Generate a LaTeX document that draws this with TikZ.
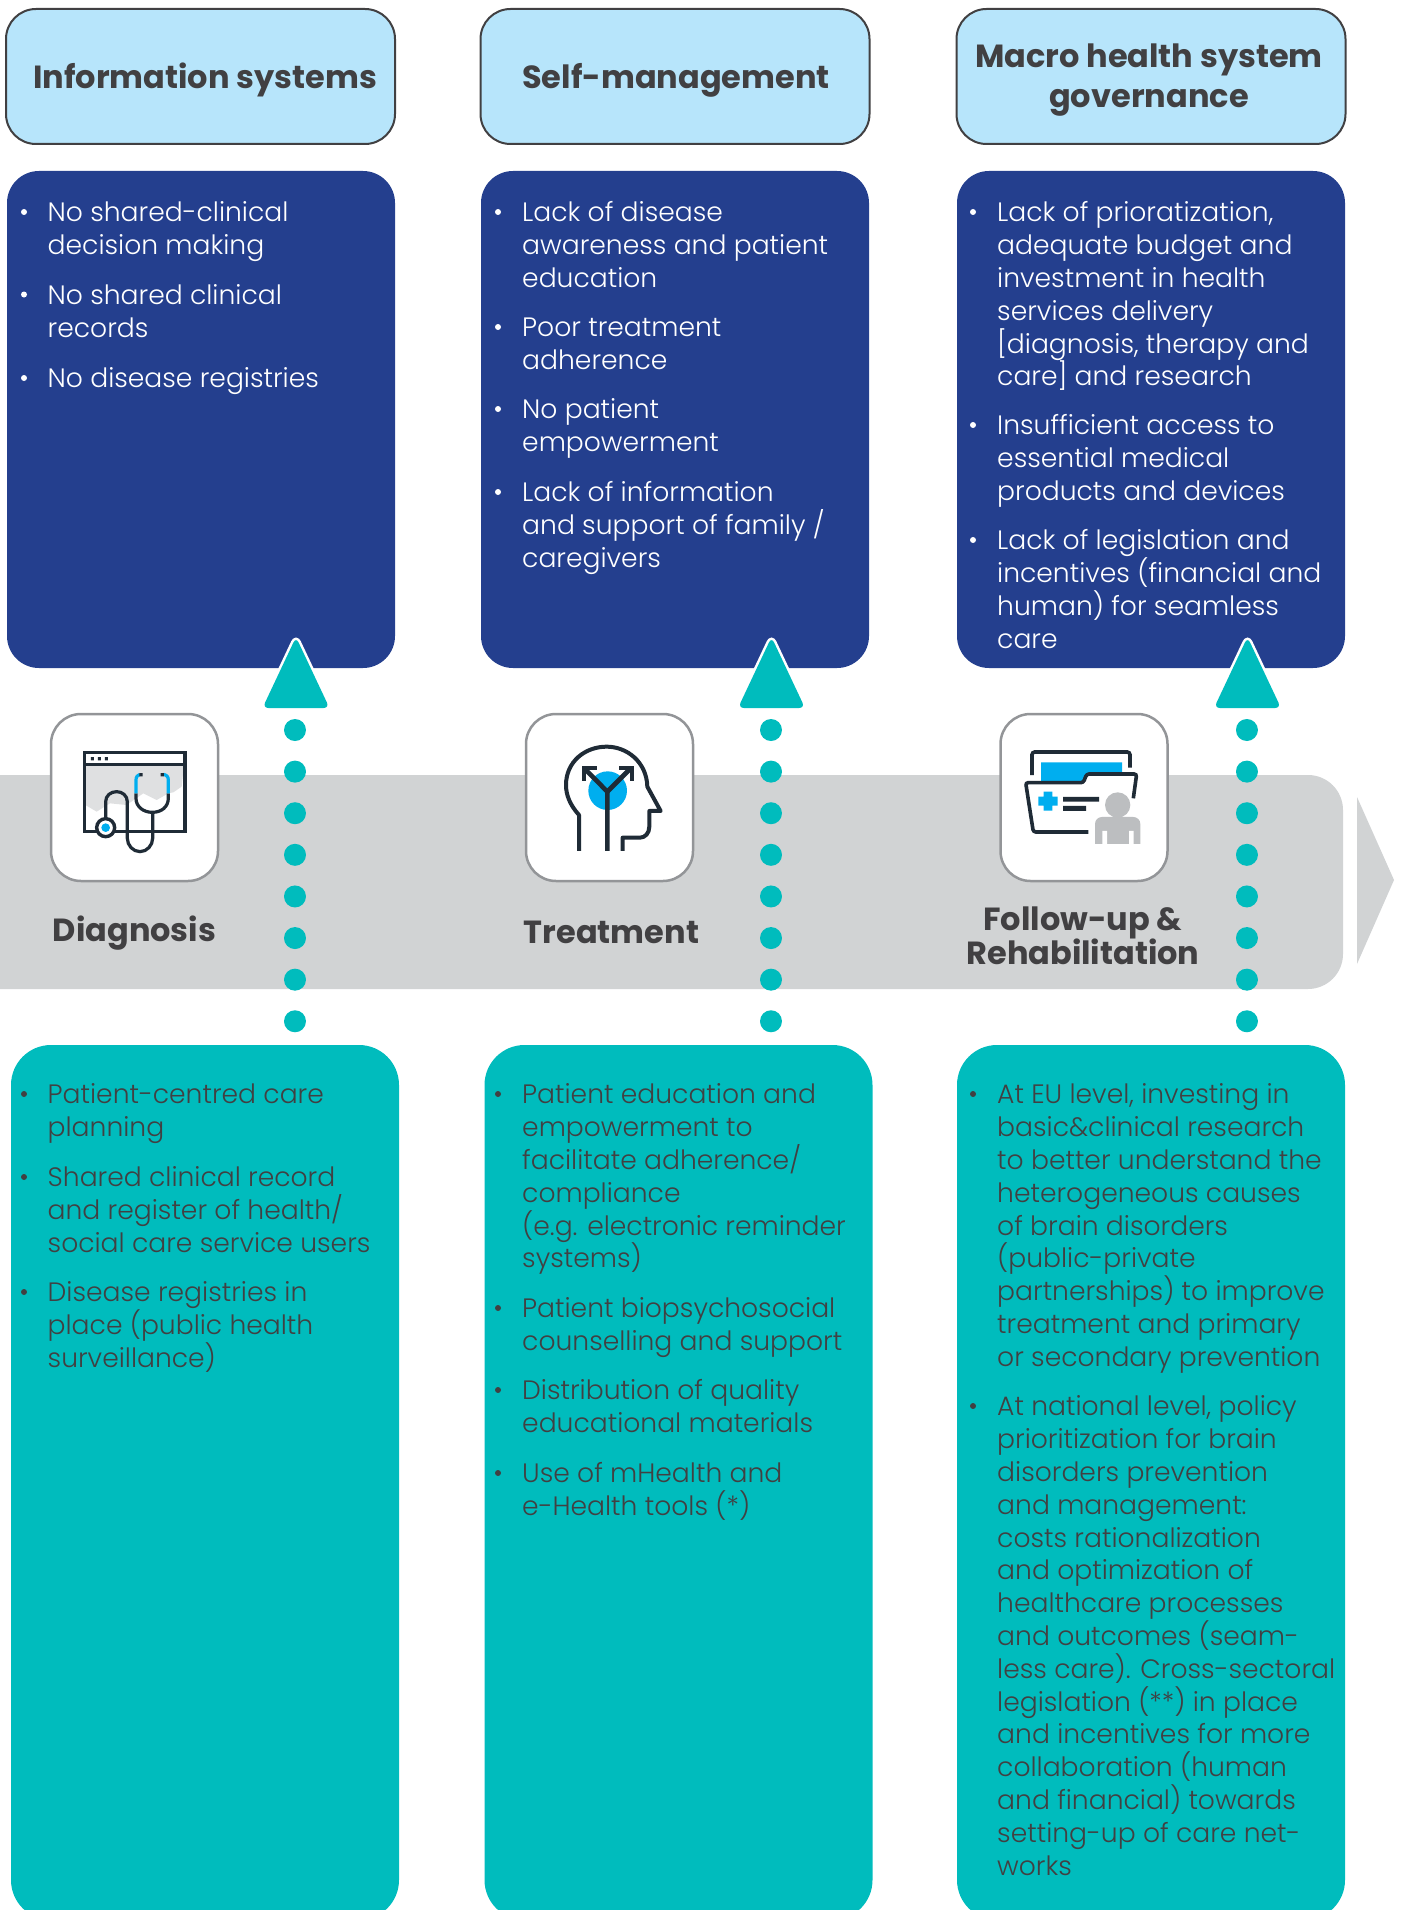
\documentclass[tikz,border=0pt]{standalone}
\usepackage{fontspec}
\setmainfont{Poppins Light}
\newfontfamily\headfont{Poppins}[UprightFont=* Bold]
\usetikzlibrary{calc}
\newcommand\tightlines{\setlength{\lineskiplimit}{-100pt}}
\newcommand\hdrfont{\headfont\fontsize{32}{40}\selectfont\tightlines}
\newcommand\stagefont{\headfont\fontsize{32}{34}\selectfont\tightlines}
\newcommand\bodyfont{\fontsize{26.6}{32.8}\selectfont\tightlines}
\definecolor{navy}{HTML}{243F8E}
\definecolor{teal}{HTML}{00BCBD}
\definecolor{sky}{HTML}{B7E5FB}
\definecolor{band}{HTML}{D1D3D4}
\definecolor{ink}{HTML}{414042}
\definecolor{edge}{HTML}{939598}
\definecolor{iconink}{HTML}{1F2B36}
\definecolor{iconblue}{HTML}{00AEEF}
\definecolor{person}{HTML}{BCBEC0}
\tikzset{
  x=1pt,y=-1pt,
  hdr/.style={draw=ink,line width=2pt,fill=sky,rounded corners=30pt,minimum width=389pt,minimum height=135pt,inner sep=0},
  hdrtext/.style={inner sep=0,align=center,text=ink,font=\hdrfont},
  stagetext/.style={inner sep=0,align=center,text=ink,font=\stagefont},
  darkbox/.style={fill=navy,rounded corners=32pt,minimum width=388pt,minimum height=497pt,inner sep=0},
  tealbox/.style={fill=teal,rounded corners=40pt,minimum width=388pt,minimum height=875pt,inner sep=0},
  iconbox/.style={draw=edge,line width=2.5pt,fill=white,rounded corners=30pt,minimum width=167pt,minimum height=167pt,inner sep=0},
  itemtext/.style={anchor=north west,inner sep=0,align=left,font=\bodyfont},
  bul/.style={circle,fill,minimum size=6pt,inner sep=0},
  dotline/.style={draw=teal,line width=22pt,line cap=round,dash pattern=on 0.01pt off 41.6pt},
  headhalo/.style={draw=white,line width=5pt,rounded corners=6pt},
  ic/.style={draw=iconink,line width=3.2pt},
}
\newcommand\bitem[5]{% name, bullet x, text x, centre y, text
  \node[bul] (#1b) at (#2,#4) {};
  \node[itemtext] (#1) at (#3,#4-13.3) {\strut #5};
}
\begin{document}
\begin{tikzpicture}
\useasboundingbox (0,0) rectangle (1402,1910);
\clip (0,0) rectangle (1402,1910);
% band
\fill[band,rounded corners=35pt] (-60,775) -- (1343,775) -- (1343,989) -- (-60,989) -- cycle;
\fill[band] (1357,797) -- (1394,880) -- (1357,964) -- cycle;
% dots
\foreach \n/\x in {1/295,2/771,3/1246.5}{
  \coordinate (ds\n) at (\x,730);
  \coordinate (de\n) at (\x,1024);
  \draw[dotline] (ds\n) -- (de\n);
}
% headers
\node[hdr] (h1) at (200.5,76.5) {};
\node[hdr] (h2) at (675,76.5) {};
\node[hdr] (h3) at (1151,76.5) {};
\node[hdrtext] (h1t) at (205,80) {Information systems};
\node[hdrtext] (h2t) at (676,80) {Self-management};
\node[hdrtext] (h3t) at (1149,80) {Macro health system\\governance};
% dark boxes
\node[darkbox] (p1) at (201,419.5) {};
\node[darkbox] (p2) at (675,419.5) {};
\node[darkbox] (p3) at (1151,419.5) {};
% teal boxes
\node[tealbox] (s1) at (205,1482.5) {};
\node[tealbox] (s2) at (678.5,1482.5) {};
\node[tealbox] (s3) at (1151,1482.5) {};
% arrow heads
\foreach \n/\x in {1/296,2/771.5,3/1247.5}{
  \draw[headhalo] (\x,637) -- (\x+33.5,708) -- (\x-33.5,708) -- cycle;
  \fill[teal,rounded corners=6pt] (\x,637) -- (\x+33.5,708) -- (\x-33.5,708) -- cycle;
}
% icon boxes
\node[iconbox] (i1) at (134.5,797.5) {};
\node[iconbox] (i2) at (609.5,797.5) {};
\node[iconbox] (i3) at (1084,797.5) {};
% icon 1
\begin{scope}[shift={(40,705)},x=0.3333pt,y=-0.3333pt]
  \fill[band!70!white] (136,180) -- (432,180) -- (425,245) -- (400,262) -- (385,265) -- (350,285) -- (310,265) -- (260,300) -- (210,295) -- (170,320) -- (136,300) -- cycle;
  \draw[ic] (133,142) rectangle (435,380);
  \draw[ic] (133,178) -- (435,178);
  \fill[iconink] (153,156) rectangle (162,166) (174,156) rectangle (183,166) (195,156) rectangle (204,166);
  \draw[ic] (338,322) -- (338,400) .. controls (338,421) and (321,440) .. (300,440) .. controls (279,440) and (262,421) .. (262,400) -- (262,290) .. controls (262,272) and (247,260) .. (230,260) .. controls (212,260) and (197,272) .. (197,290) -- (197,345);
  \draw[ic] (288,265) -- (288,280) .. controls (288,305) and (310,322) .. (337,322) .. controls (365,322) and (385,305) .. (385,280) -- (385,265);
  \draw[iconblue,line width=3.2pt] (288,265) -- (288,225) .. controls (288,215) and (293,210) .. (300,208);
  \draw[iconblue,line width=3.2pt] (385,265) -- (385,225) .. controls (385,215) and (380,210) .. (370,208);
  \fill[iconink] (298,204) rectangle (308,214) (362,204) rectangle (372,214);
  \draw[ic,line width=3.4pt,fill=white] (197,368) circle[radius=27];
  \fill[iconblue] (197,368) circle[radius=13];
\end{scope}
% icon 2
\begin{scope}[shift={(510,705)},x=0.3333pt,y=-0.3333pt]
  \fill[iconblue] (293,257) circle[radius=58];
  \draw[ic,line width=4pt,line join=round] (207,438) -- (207,330) .. controls (180,300) and (168,270) .. (168,240) .. controls (168,170) and (225,125) .. (290,125) .. controls (350,125) and (410,170) .. (412,245) -- (452,318) -- (418,318) -- (418,365) .. controls (418,385) and (405,398) .. (390,398) -- (338,398) -- (338,438);
  \draw[ic,line width=4.6pt] (292,438) -- (292,260) -- (225,192);
  \draw[ic,line width=4.6pt] (292,260) -- (360,192);
  \draw[ic,line width=4pt] (221,228) -- (221,188) -- (262,188);
  \draw[ic,line width=4pt] (328,188) -- (366,188) -- (366,228);
\end{scope}
% icon 3
\begin{scope}[shift={(985,705)},x=0.3333pt,y=-0.3333pt]
  \draw[ic,line width=3.6pt,rounded corners=2.7pt] (141,210) -- (141,141) -- (435,141) -- (435,188);
  \fill[iconblue] (168,172) -- (411,172) -- (411,207) -- (305,207) -- (293,232) -- (168,232) -- cycle;
  \draw[ic,line width=3.6pt,rounded corners=2.5pt] (310,381) -- (145,381) -- (122,233) -- (295,233) -- (305,207) -- (455,207) -- (445,280);
  \fill[iconblue] (176,260) rectangle (202,317) (160,275) rectangle (218,302);
  \fill[iconink] (234,276) rectangle (342,290) (234,303) rectangle (303,318);
  \fill[person] (398,300) circle[radius=38];
  \fill[person,rounded corners=7pt] (330,440) -- (330,336) -- (466,336) -- (466,440) -- cycle;
  \fill[white] (325,418) rectangle (472,445);
  \fill[white] (352,378) rectangle (366,420) (432,378) rectangle (446,420);
\end{scope}
% stage labels
\node[stagetext] (l1) at (134.5,933) {Diagnosis};
\node[stagetext] (l2) at (611.5,932.5) {Treatment};
\node[stagetext] (l3) at (1083,935.5) {Follow-up \&\\Rehabilitation};
% problems
\begin{scope}[every node/.append style={text=white}]
\tikzset{bul/.append style={fill=white}}
\bitem{a1}{24}{47.5}{212}{No shared-clinical\\decision making}
\bitem{a2}{24}{47.5}{294.5}{No shared clinical\\records}
\bitem{a3}{24}{47.5}{378}{No disease registries}
\bitem{b1}{498}{522}{212}{Lack of disease\\awareness and patient\\education}
\bitem{b2}{498}{522}{327}{Poor treatment\\adherence}
\bitem{b3}{498}{522}{409}{No patient\\empowerment}
\bitem{b4}{498}{522}{492}{Lack of information\\and support of family /\\caregivers}
\bitem{c1}{973}{997}{212}{Lack of prioratization,\\adequate budget and\\investment in health\\services delivery\\{[}diagnosis, therapy and\\care{]} and research}
\bitem{c2}{973}{997}{425}{Insufficient access to\\essential medical\\products and devices}
\bitem{c3}{973}{997}{540}{Lack of legislation and\\incentives (financial and\\human) for seamless\\care}
\end{scope}
% solutions
\begin{scope}[every node/.append style={text=ink}]
\tikzset{bul/.append style={fill=ink}}
\bitem{d1}{24}{47.5}{1094}{Patient-centred care\\planning}
\bitem{d2}{24}{47.5}{1177}{Shared clinical record\\and register of health/\\social care service users}
\bitem{d3}{24}{47.5}{1292}{Disease registries in\\place (public health\\surveillance)}
\bitem{e1}{498}{522}{1094}{Patient education and\\empowerment to\\facilitate adherence/\\compliance\\(e.g. electronic reminder\\systems)}
\bitem{e2}{498}{522}{1308}{Patient biopsychosocial\\counselling and support}
\bitem{e3}{498}{522}{1390}{Distribution of quality\\educational materials}
\bitem{e4}{498}{522}{1473}{Use of mHealth and\\e-Health tools (*)}
\bitem{f1}{973}{997}{1094}{At EU level, investing in\\basic\&clinical research\\to better understand the\\heterogeneous causes\\of brain disorders\\(public-private\\partnerships) to improve\\treatment and primary\\or secondary prevention}
\bitem{f2}{973}{997}{1406}{At national level, policy\\prioritization for brain\\disorders prevention\\and management:\\costs rationalization\\and optimization of\\healthcare processes\\and outcomes (seam-\\less care). Cross-sectoral\\legislation (**) in place\\and incentives for more\\collaboration (human\\and financial) towards\\setting-up of care net-\\works}
\end{scope}
\end{tikzpicture}
\end{document}
